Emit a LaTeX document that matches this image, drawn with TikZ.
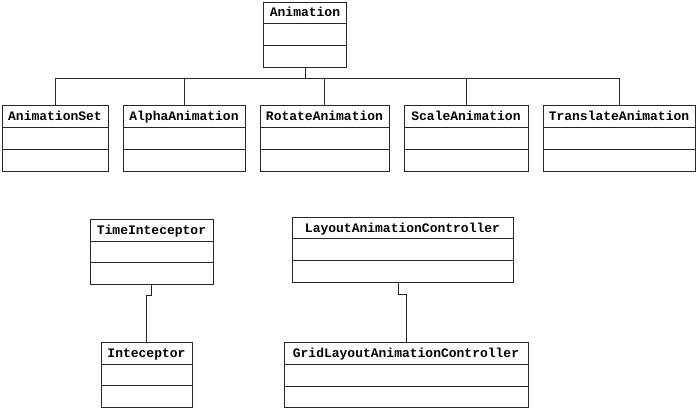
\documentclass[tikz,border=0pt]{standalone}
\usepackage{fontspec}
\setmonofont{Liberation Mono}
\begin{document}
\begin{tikzpicture}[x=1pt,y=-1pt,
  line width=0.8pt, color=black!85,
  classbox/.style={draw=black!85, line width=0.8pt, rectangle, inner sep=0pt},
  classtitle/.style={inner sep=0pt, text height=9.5pt, text depth=2.5pt, text=black,
    font=\ttfamily\bfseries\fontsize{13}{15}\selectfont}]
\fill[white] (0,0) rectangle (699,409);
\useasboundingbox (0,0) rectangle (699,409);
\newcommand\umlbox[8]{%
  \node[classbox, minimum width={(#5-#3)*1pt}, minimum height={(#8-#4)*1pt}] (#1) at ({(#3+#5)/2},{(#4+#8)/2}) {};
  \draw (#3,#6) -- (#5,#6);
  \draw (#3,#7) -- (#5,#7);
  \node[classtitle] (#1-t) at ({(#3+#5)/2},{(#4+#6)/2+1}) {#2};
}
\umlbox{anim}{Animation}{263.5}{2}{346.5}{23}{45}{67}
\umlbox{set}{AnimationSet}{2}{105}{108}{127}{149}{171}
\umlbox{alpha}{AlphaAnimation}{123}{105}{245}{127}{149}{171}
\umlbox{rot}{RotateAnimation}{260}{105}{389}{127}{149}{171}
\umlbox{scale}{ScaleAnimation}{404}{105}{528}{127}{149}{171}
\umlbox{trans}{TranslateAnimation}{543}{105}{695}{127}{149}{171}
\umlbox{ti}{TimeInteceptor}{90}{219}{213}{241}{262}{284}
\umlbox{inter}{Inteceptor}{101}{342}{192}{364}{385}{407}
\umlbox{lac}{LayoutAnimationController}{292}{217}{513}{238}{260}{282}
\umlbox{glac}{GridLayoutAnimationController}{284}{342}{528}{364}{386}{407.5}
\coordinate (bus) at (anim.south |- 0,78);
\draw (anim.south) -- (bus);
\foreach \n in {set,alpha,rot,scale,trans} \draw (bus) -| (\n.north);
\draw (ti.south) -- ++(0,11) -| (inter.north);
\draw ([xshift=-4.5pt]lac.south) -- ++(0,12) -| (glac.north);
\end{tikzpicture}
\end{document}
